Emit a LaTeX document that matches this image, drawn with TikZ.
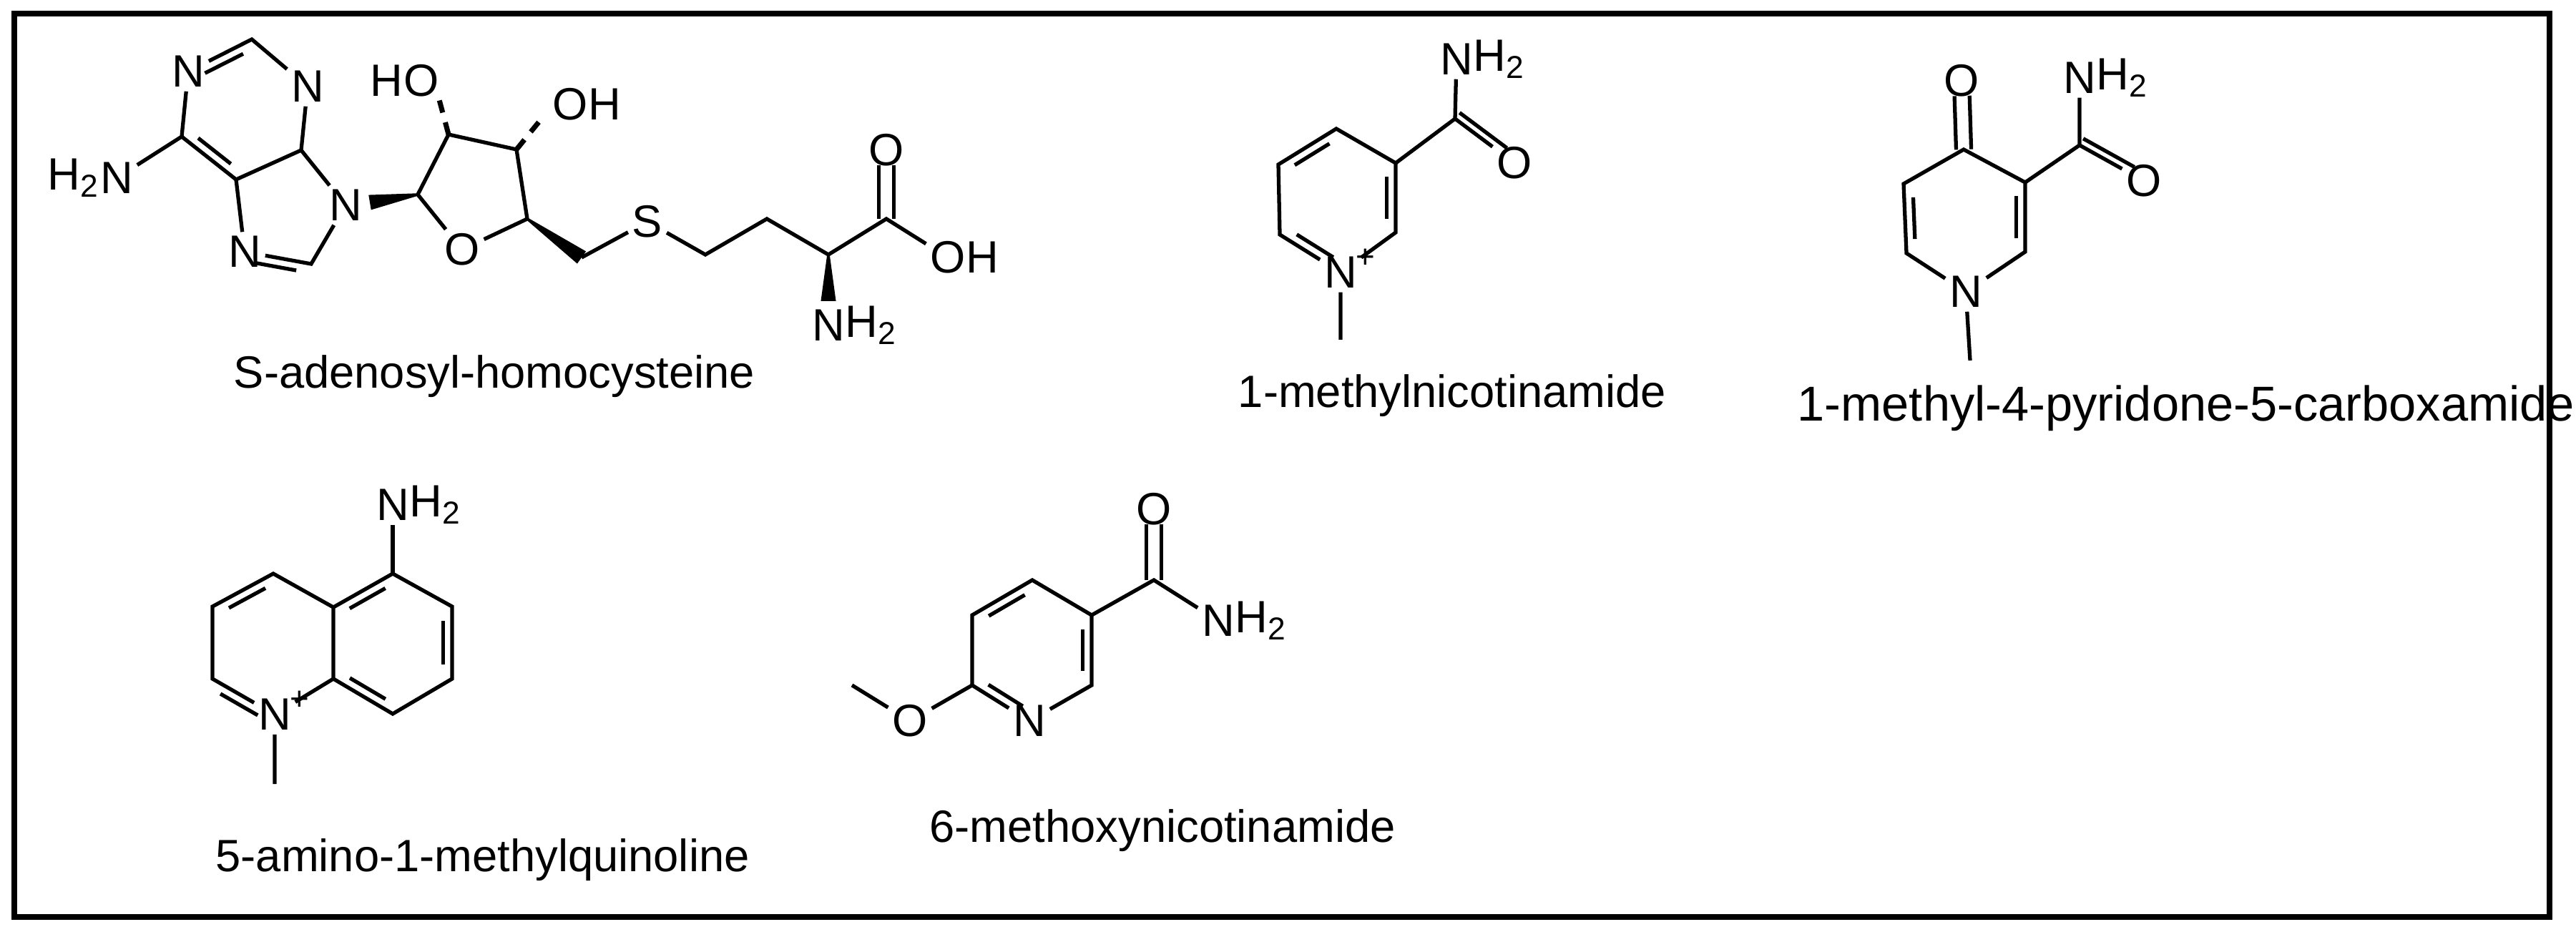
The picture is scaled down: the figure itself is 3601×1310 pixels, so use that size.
\documentclass[tikz,border=0pt]{standalone}
\usepackage{fontspec}
\setmainfont{Liberation Sans}
\usetikzlibrary{calc}
\newcommand\dblin[3]{\draw[bond] ($(#1)!0.2!(#2)!3.6pt!#3:(#2)$) -- ($(#2)!0.2!(#1)!3.6pt!-#3:(#1)$);}
\newcommand\dblpar[3]{\draw[bond,shorten >=6pt] ($(#1)!3pt!#3:(#2)$) -- ($(#2)!3pt!-#3:(#1)$);}
\newcommand\wedgeb[3]{\fill ($(#1)!0.5pt!90:(#2)$) -- ($(#2)!#3!-90:(#1)$) -- ($(#2)!#3!90:(#1)$) -- ($(#1)!0.5pt!-90:(#2)$) -- cycle;}
\tikzset{
 bond/.style={line width=1.5pt},
 atom/.style={inner sep=1.5pt, font=\fontsize{18}{20}\selectfont},
 subr/.style={inner sep=0pt, anchor=west, xshift=-1.6pt, font=\fontsize{18}{20}\selectfont},
 subl/.style={inner sep=0pt, anchor=east, xshift=1.6pt, font=\fontsize{18}{20}\selectfont},
 plus/.style={inner sep=0pt, anchor=south west, font=\fontsize{13}{14}\selectfont},
 captext/.style={inner sep=0pt, font=\fontsize{18}{20}\selectfont},
 hashb/.style={line width=2pt, dash pattern=on 5pt off 4pt}
}
\begin{document}
\begin{tikzpicture}[x=0.01cm,y=-0.01cm]
\useasboundingbox (0,0) rectangle (3601,1310);
\draw[line width=2.2pt] (20,19) rectangle (3564,1282);
% ---------- SAH ----------
\node[atom] (N1) at (263,100) {N};
\coordinate (C2) at (352,55);
\node[atom] (N3) at (430,121) {N};
\coordinate (C4) at (421,210);
\coordinate (C5) at (330,251);
\coordinate (C6) at (254,191);
\node[atom] (N9) at (483,287) {N};
\coordinate (C8) at (435,369);
\node[atom] (N7) at (342,352) {N};
\node[atom] (NA) at (163,249) {N};
\node[subl] (HA) at (NA.west) {H\textsubscript{2}};
\draw[bond] (C6) -- (N1) (N1) -- (C2) -- (N3) -- (C4) -- (C5) -- (C6) -- (NA);
\draw[bond] (C4) -- (N9) -- (C8) -- (N7) -- (C5);
\dblin{N1}{C2}{-90}
\dblin{C6}{C5}{90}
\dblin{C8}{N7}{90}
% ribose
\coordinate (C1r) at (584,272);
\node[atom] (O4r) at (646,349) {O};
\coordinate (C4r) at (737,306);
\coordinate (C3r) at (722,209);
\coordinate (C2r) at (627,188);
\coordinate (C5r) at (813,360);
\coordinate (W1) at (517,283);
\draw[bond] (C1r) -- (O4r) -- (C4r) -- (C3r) -- (C2r) -- (C1r);
\wedgeb{C1r}{W1}{3pt}
\wedgeb{C4r}{C5r}{3pt}
\node[atom] (OA) at (589,113) {O};
\node[subl] (HOA) at (OA.west) {H};
\node[atom] (OB) at (797,146) {O};
\node[subr] (HOB) at (OB.east) {H};
\coordinate (HAe) at (612,132);
\coordinate (HBe) at (761,161);
\draw[hashb] (C2r) -- (HAe);
\draw[hashb] (C3r) -- (HBe);
\node[atom] (S) at (905,310) {S};
\coordinate (Ca) at (986,356);
\coordinate (Cb) at (1072,306);
\coordinate (Cal) at (1158,356);
\coordinate (Cc) at (1239,306);
\node[atom] (Oc) at (1239,210) {O};
\node[atom] (Oh) at (1325,360) {O};
\node[subr] (Hh) at (Oh.east) {H};
\node[atom] (NB) at (1158,455) {N};
\node[subr] (HB) at (NB.east) {H\textsubscript{2}};
\coordinate (Wb) at (1158,421);
\draw[bond] (C5r) -- (S) -- (Ca) -- (Cb) -- (Cal) -- (Cc) -- (Oh);
\dblpar{Cc}{Oc}{90}
\dblpar{Cc}{Oc}{-90}
\wedgeb{Cal}{Wb}{3pt}
\node[captext,anchor=base] (capA) at (691,543) {S-adenosyl-homocysteine};
% ---------- 1-methylnicotinamide ----------
\node[atom] (mN) at (1874,381) {N};
\node[plus] (mplus) at ($(mN.north east)+(-8,22)$) {+};
\coordinate (m2) at (1951,325);
\coordinate (m3) at (1951,228);
\coordinate (m4) at (1868,180);
\coordinate (m5) at (1787,230);
\coordinate (m6) at (1789,328);
\coordinate (mC) at (2034,166);
\node[atom] (mO) at (2117,228) {O};
\node[atom] (mNa) at (2036,83) {N};
\node[subr] (mH) at (mNa.east) {H\textsubscript{2}};
\coordinate (mMe) at (1874,475);
\draw[bond] (mN) -- (m2) -- (m3) -- (m4) -- (m5) -- (m6) -- (mN) -- (mMe);
\draw[bond] (m3) -- (mC) -- (mNa);
\draw[bond] (mC) -- (mO);
\dblpar{mC}{mO}{90}
\dblin{m4}{m5}{90}
\dblin{m6}{mN}{90}
\dblin{m2}{m3}{90}
\node[captext,anchor=base] (capB) at (2030,570) {1-methylnicotinamide};
% ---------- pyridone ----------
\node[atom] (pN) at (2748,408) {N};
\coordinate (p2) at (2831,352);
\coordinate (p3) at (2831,255);
\coordinate (p4) at (2745,209);
\coordinate (p5) at (2661,257);
\coordinate (p6) at (2665,354);
\node[atom] (pO) at (2742,113) {O};
\coordinate (pC) at (2907,203);
\node[atom] (pOa) at (2997,253) {O};
\node[atom] (pNa) at (2907,109) {N};
\node[subr] (pH) at (pNa.east) {H\textsubscript{2}};
\coordinate (pMe) at (2754,504);
\draw[bond] (pN) -- (p2) -- (p3) -- (p4) -- (p5) -- (p6) -- (pN) -- (pMe);
\draw[bond] (p3) -- (pC) -- (pNa);
\draw[bond] (pC) -- (pOa);
\dblpar{pC}{pOa}{90}
\dblpar{p4}{pO}{90}
\dblpar{p4}{pO}{-90}
\dblin{p5}{p6}{90}
\dblin{p2}{p3}{90}
\node[captext,anchor=base west,font=\fontsize{19.5}{21}\selectfont] (capC) at (2512,589) {1-methyl-4-pyridone-5-carboxamide};
% ---------- quinoline ----------
\node[atom] (qN) at (384,999) {N};
\node[plus] (qplus) at ($(qN.north east)+(-8,22)$) {+};
\coordinate (q2) at (297,949);
\coordinate (q3) at (297,848);
\coordinate (q4) at (382,802);
\coordinate (q4a) at (466,849);
\coordinate (q5) at (549,802);
\coordinate (q6) at (632,848);
\coordinate (q7) at (632,949);
\coordinate (q8) at (549,998);
\coordinate (q8a) at (466,949);
\node[atom] (qNa) at (549,706) {N};
\node[subr] (qH) at (qNa.east) {H\textsubscript{2}};
\coordinate (qMe) at (384,1096);
\draw[bond] (qN) -- (q2) -- (q3) -- (q4) -- (q4a) -- (q8a) -- (qN) -- (qMe);
\draw[bond] (q4a) -- (q5) -- (q6) -- (q7) -- (q8) -- (q8a);
\draw[bond] (q5) -- (qNa);
\dblin{q3}{q4}{-90}
\dblin{q2}{qN}{-90}
\dblin{q4a}{q5}{-90}
\dblin{q6}{q7}{-90}
\dblin{q8a}{q8}{90}
\node[captext,anchor=base west] (capD) at (301,1218) {5-amino-1-methylquinoline};
% ---------- 6-methoxynicotinamide ----------
\node[atom] (xN) at (1439,1008) {N};
\coordinate (x2) at (1526,958);
\coordinate (x3) at (1526,860);
\coordinate (x4) at (1443,811);
\coordinate (x5) at (1359,860);
\coordinate (x6) at (1359,958);
\node[atom] (xO) at (1272,1008) {O};
\coordinate (xMe) at (1191,958);
\coordinate (xC) at (1613,811);
\node[atom] (xOa) at (1613,712) {O};
\node[atom] (xNa) at (1703,868) {N};
\node[subr] (xH) at (xNa.east) {H\textsubscript{2}};
\draw[bond] (xN) -- (x2) -- (x3) -- (x4) -- (x5) -- (x6) -- (xN);
\draw[bond] (x6) -- (xO) -- (xMe);
\draw[bond] (x3) -- (xC) -- (xNa);
\dblpar{xC}{xOa}{90}
\dblpar{xC}{xOa}{-90}
\dblin{x4}{x5}{90}
\dblin{x6}{xN}{90}
\dblin{x2}{x3}{90}
\node[captext,anchor=base west] (capE) at (1299,1177) {6-methoxynicotinamide};
\end{tikzpicture}
\end{document}
